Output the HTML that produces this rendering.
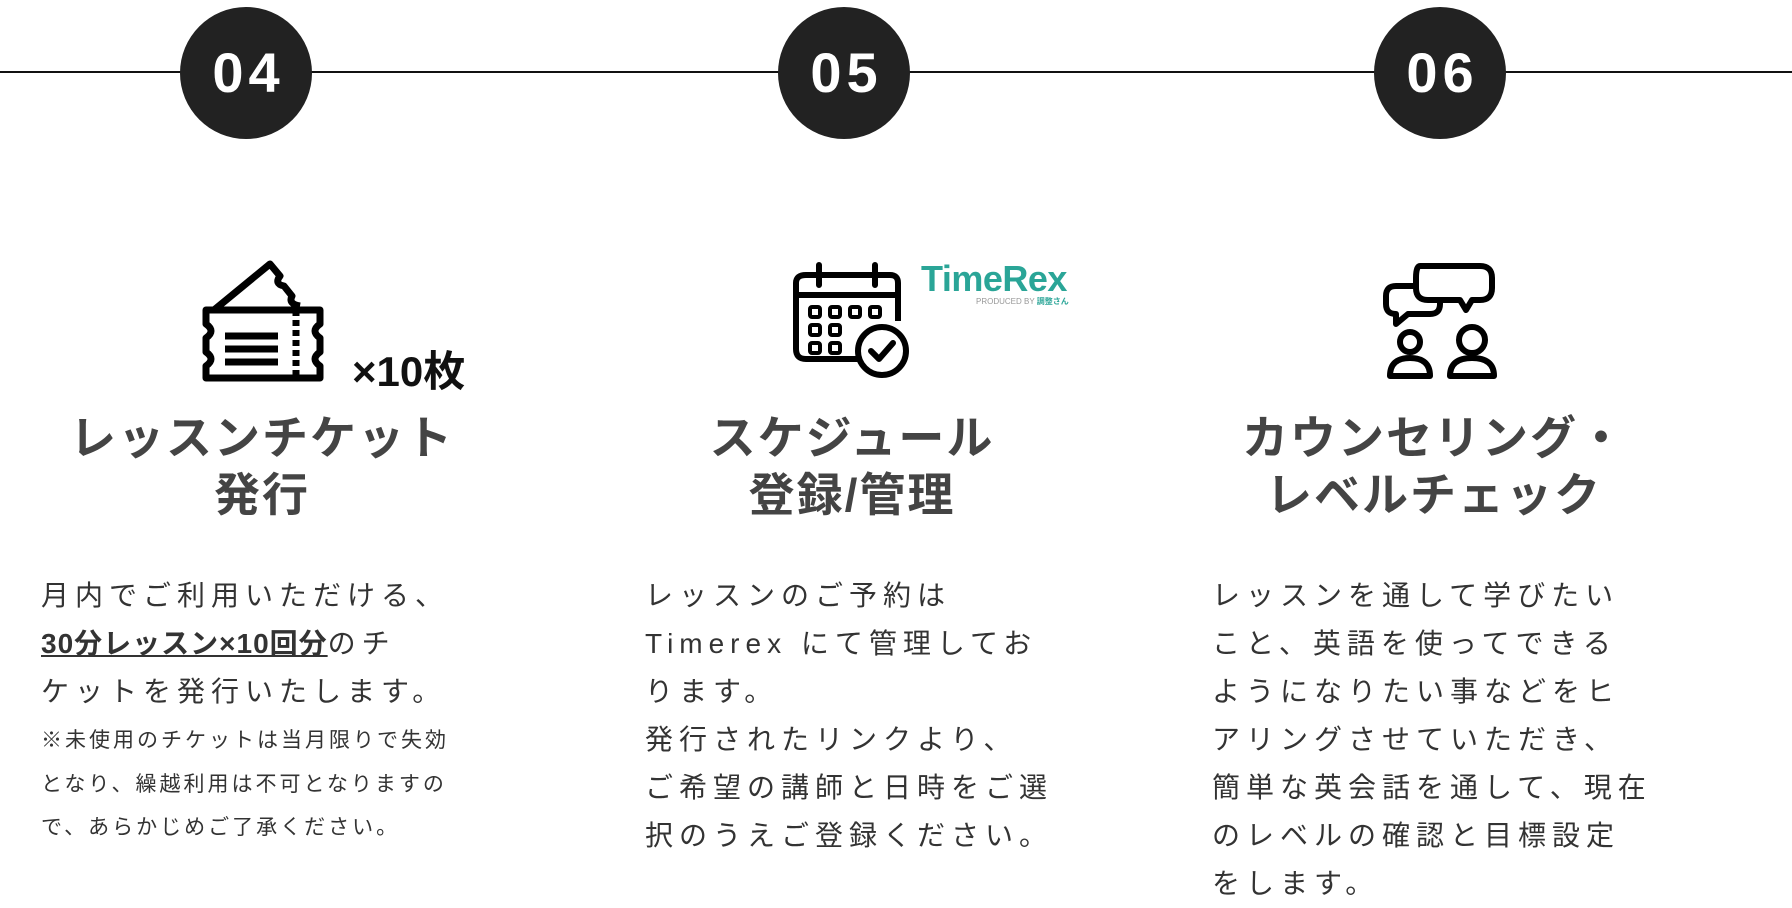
<!DOCTYPE html>
<html><head><meta charset="utf-8"><style>
body{margin:0;width:1792px;height:903px;background:#fff;position:relative;overflow:hidden;font-family:"Liberation Sans","Noto Sans CJK JP",sans-serif;color:#333}
.a{position:absolute}
.circ{position:absolute;width:132px;height:132px;border-radius:50%;background:#222;color:#fff;font-weight:bold;font-size:56px;line-height:132px;text-align:center;top:7px;letter-spacing:5px;text-indent:5px}
.t{position:absolute;font-weight:bold;font-size:46px;line-height:57px;text-align:center;color:#444;width:500px;letter-spacing:2px}
.b{position:absolute;font-size:28px;line-height:48px;letter-spacing:6px;color:#333;white-space:nowrap}
.s{font-size:21px;line-height:43.5px;letter-spacing:3px;margin-top:3px}
</style></head><body>
<div class="a" style="left:0;top:71px;width:1792px;height:2px;background:#111"></div>
<div class="circ" style="left:180px">04</div>
<div class="circ" style="left:778px">05</div>
<div class="circ" style="left:1374px">06</div>

<svg class="a" style="left:200px;top:258px" width="126" height="124" viewBox="0 0 126 124" fill="none" stroke="#000" stroke-width="7" stroke-linejoin="round">
<path d="M6 52 L120 52 L120 66 Q110 73 120 80 L120 94 Q110 101 120 108 L120 120 L6 120 L6 108 Q16 101 6 94 L6 80 Q16 73 6 66 Z"/>
<path d="M96 52 L96 120" stroke-dasharray="6 4"/>
<path d="M25 78H78M25 91H78M25 104H78"/>
<path d="M14 52 L70 6 L80 18 Q74 26 84 28 L92 38 Q88 46 100 48"/>
</svg>
<div class="a" style="left:352px;top:338px;font-size:42px;font-weight:bold;color:#111">×10枚</div>

<svg class="a" style="left:792px;top:261px" width="118" height="118" viewBox="0 0 118 118" fill="none" stroke="#000" stroke-width="6">
<path d="M80 98 H14 Q4 98 4 88 V22 Q4 14 14 14 H98 Q106 14 106 22 V60"/>
<path d="M4 34 H106"/><path d="M27 4V24M83 4V24" stroke-linecap="round"/>
<g stroke-width="4"><rect x="18" y="46" width="10" height="10" rx="2"/><rect x="38" y="46" width="10" height="10" rx="2"/><rect x="58" y="46" width="10" height="10" rx="2"/><rect x="78" y="46" width="10" height="10" rx="2"/><rect x="18" y="64" width="10" height="10" rx="2"/><rect x="38" y="64" width="10" height="10" rx="2"/><rect x="18" y="82" width="10" height="10" rx="2"/><rect x="38" y="82" width="10" height="10" rx="2"/></g>
<circle cx="90" cy="90" r="24" fill="#fff"/><path d="M79 90 L87 98 L101 82" stroke-linecap="round" stroke-linejoin="round"/>
</svg>
<div class="a" style="left:921px;top:258px;font-size:36px;font-weight:bold;color:#2aa597;letter-spacing:-0.5px">TimeRex</div>
<div class="a" style="left:976px;top:296px;font-size:8px;color:#999">PRODUCED BY <b style="color:#2aa597">調整さん</b></div>

<svg class="a" style="left:1380px;top:258px" width="120" height="122" viewBox="0 0 120 122" fill="none" stroke="#000" stroke-width="6" stroke-linejoin="round">
<path d="M40 8 H100 Q112 8 112 20 V30 Q112 42 100 42 H92 L86 52 L80 42 H48 Q36 42 36 30 V20 Q36 8 40 8Z"/>
<path d="M36 28 H16 Q6 28 6 38 V46 Q6 56 16 56 L16 66 L28 56 H50 Q60 56 60 46 V42"/>
<circle cx="30" cy="84" r="10"/><path d="M10 118 Q10 100 30 100 Q50 100 50 118 Z"/>
<circle cx="92" cy="82" r="13"/><path d="M70 118 Q70 100 92 100 Q114 100 114 118 Z"/>
</svg>

<div class="t" style="left:12px;top:410px">レッスンチケット<br>発行</div>
<div class="t" style="left:602px;top:410px">スケジュール<br>登録/管理</div>
<div class="t" style="left:1184px;top:410px">カウンセリング・<br>レベルチェック</div>

<div class="b" style="left:41px;top:572px">月内でご利用いただける、<br><b style="text-decoration:underline;letter-spacing:1px">30分レッスン×10回分</b>のチ<br>ケットを発行いたします。<br><div class="s">※未使用のチケットは当月限りで失効<br>となり、繰越利用は不可となりますの<br>で、あらかじめご了承ください。</div></div>

<div class="b" style="left:645px;top:572px">レッスンのご予約は<br>Timerex にて管理してお<br>ります。<br>発行されたリンクより、<br>ご希望の講師と日時をご選<br>択のうえご登録ください。</div>

<div class="b" style="left:1212px;top:572px">レッスンを通して学びたい<br>こと、英語を使ってできる<br>ようになりたい事などをヒ<br>アリングさせていただき、<br>簡単な英会話を通して、現在<br>のレベルの確認と目標設定<br>をします。</div>
</body></html>
